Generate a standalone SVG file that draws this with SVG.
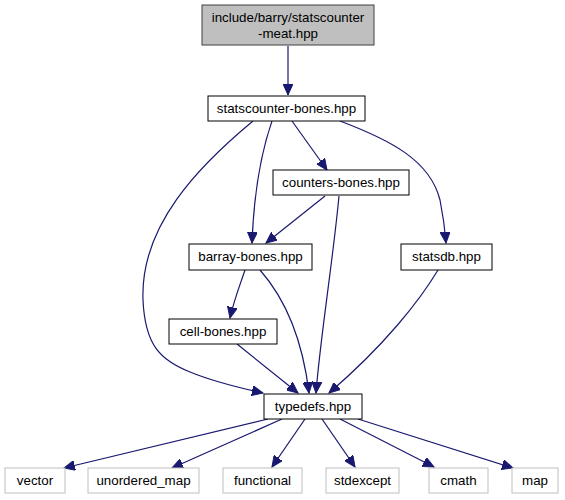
<svg xmlns="http://www.w3.org/2000/svg" width="565" height="500" viewBox="0 0 565 500">
<style>
.n rect{fill:#ffffff;stroke:#000000;stroke-width:1}
.g rect{fill:#ffffff;stroke:#bfbfbf;stroke-width:1}
.top rect{fill:#bfbfbf;stroke:#404040;stroke-width:1}
text{font-family:"Liberation Sans",Arial,sans-serif;font-size:13.33px;fill:#000000;text-anchor:middle}
.e path{fill:none;stroke:#191970;stroke-width:1.2}
</style>
<defs>
<marker id="ah" markerUnits="userSpaceOnUse" markerWidth="12" markerHeight="10" viewBox="0 0 12 10" refX="11" refY="5" orient="auto">
<path d="M0,0 L11,5 L0,10 Z" fill="#191970" stroke="#191970"/>
</marker>
</defs>
<rect width="565" height="500" fill="#ffffff"/>
<g class="e" marker-end="url(#ah)">
<path d="M288,46 L288,95" marker-end="url(#ah)"/>
<path d="M253,121 C200,165 140,225 143,300 C145,345 160,360 190,372 C212,381 240,388 263,393" marker-end="url(#ah)"/>
<path d="M272,121 C262,150 254,190 252,243" marker-end="url(#ah)"/>
<path d="M292,121 L327,170" marker-end="url(#ah)"/>
<path d="M340,121 C390,140 430,160 440,200 C443,215 445,230 446,243" marker-end="url(#ah)"/>
<path d="M325,196 L266,243" marker-end="url(#ah)"/>
<path d="M339,196 C333,260 320,340 316,393" marker-end="url(#ah)"/>
<path d="M245,270 C240,285 234,300 230,318" marker-end="url(#ah)"/>
<path d="M260,270 C282,295 302,335 309,393" marker-end="url(#ah)"/>
<path d="M237,344 L298,393" marker-end="url(#ah)"/>
<path d="M438,270 C420,300 385,345 329,393" marker-end="url(#ah)"/>
<path d="M268,419 L64,468" marker-end="url(#ah)"/>
<path d="M282,419 L172,468" marker-end="url(#ah)"/>
<path d="M305,419 L272,467" marker-end="url(#ah)"/>
<path d="M322,419 L355,467" marker-end="url(#ah)"/>
<path d="M340,419 L434,467" marker-end="url(#ah)"/>
<path d="M358,419 L513,468" marker-end="url(#ah)"/>
</g>
<g id="node1" class="top"><rect x="202" y="5" width="172" height="40"/><text x="288" y="22">include/barry/statscounter</text><text x="288" y="38">-meat.hpp</text></g>
<g id="node2" class="n"><rect x="208" y="96" width="157" height="25"/><text x="286.5" y="113">statscounter-bones.hpp</text></g>
<g id="node3" class="n"><rect x="273" y="170" width="136" height="25"/><text x="341" y="187">counters-bones.hpp</text></g>
<g id="node4" class="n"><rect x="189" y="244" width="123" height="26"/><text x="250.5" y="261">barray-bones.hpp</text></g>
<g id="node5" class="n"><rect x="401" y="244" width="91" height="26"/><text x="446.5" y="261">statsdb.hpp</text></g>
<g id="node6" class="n"><rect x="169" y="319" width="108" height="25"/><text x="223" y="336">cell-bones.hpp</text></g>
<g id="node7" class="n"><rect x="264" y="394" width="98" height="25"/><text x="313" y="411">typedefs.hpp</text></g>
<g id="node8" class="g"><rect x="5" y="468" width="60" height="25"/><text x="35" y="485">vector</text></g>
<g id="node9" class="g"><rect x="88" y="468" width="111" height="25"/><text x="143.5" y="485">unordered_map</text></g>
<g id="node10" class="g"><rect x="223" y="468" width="79" height="25"/><text x="262.5" y="485">functional</text></g>
<g id="node11" class="g"><rect x="326" y="468" width="73" height="25"/><text x="362.5" y="485">stdexcept</text></g>
<g id="node12" class="g"><rect x="429" y="468" width="59" height="25"/><text x="458.5" y="485">cmath</text></g>
<g id="node13" class="g"><rect x="512" y="468" width="46" height="25"/><text x="535" y="485">map</text></g>
</svg>
